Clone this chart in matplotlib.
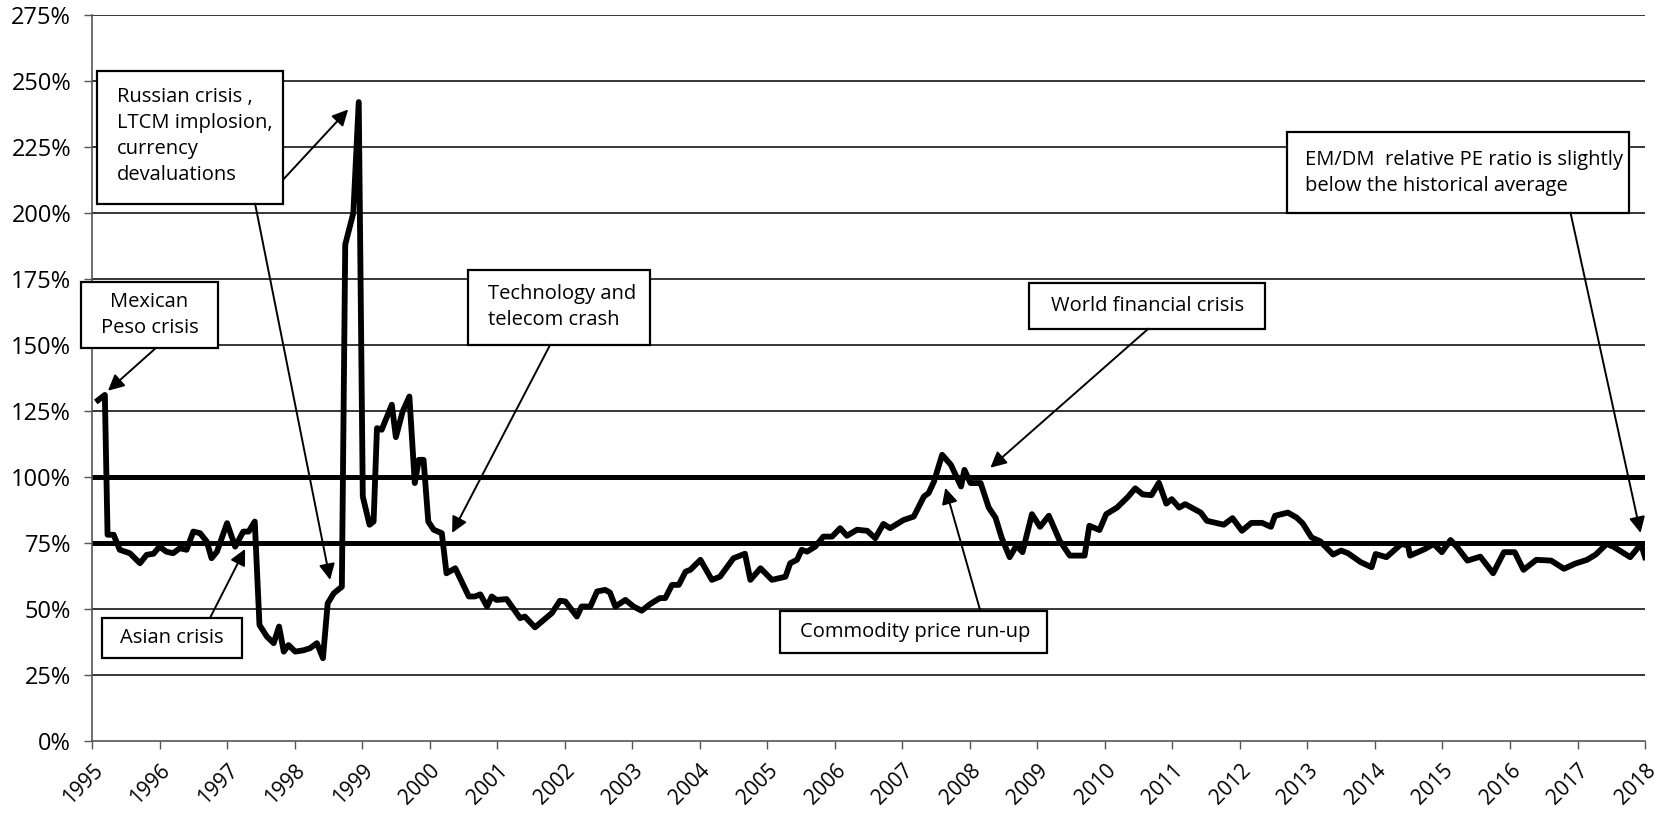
import matplotlib
matplotlib.use('Agg')
import matplotlib.pyplot as plt
from matplotlib.patches import Rectangle
from matplotlib.ticker import FuncFormatter

plt.rcParams['font.family'] = ['Open Sans', 'DejaVu Sans']

# EM/DM relative PE ratio (%), sampled at fractional years
years = [
    1995.09, 1995.19, 1995.23, 1995.32, 1995.41, 1995.56, 1995.71, 1995.81, 1995.91,
    1996.00, 1996.10, 1996.20, 1996.30, 1996.40, 1996.50, 1996.60, 1996.70, 1996.77, 1996.85,
    1997.00, 1997.12, 1997.24, 1997.32, 1997.41, 1997.48, 1997.59, 1997.69, 1997.77, 1997.84, 1997.91,
    1998.01, 1998.13, 1998.23, 1998.33, 1998.42, 1998.49, 1998.58, 1998.70, 1998.75, 1998.87, 1998.95,
    1999.01, 1999.11, 1999.17, 1999.22, 1999.29, 1999.44, 1999.50, 1999.60, 1999.70, 1999.78, 1999.84, 1999.91, 1999.98,
    2000.06, 2000.18, 2000.25, 2000.38, 2000.58, 2000.67, 2000.75, 2000.85, 2000.92, 2000.99,
    2001.14, 2001.34, 2001.41, 2001.56, 2001.69, 2001.81, 2001.93,
    2002.01, 2002.18, 2002.25, 2002.38, 2002.48, 2002.60, 2002.67, 2002.75, 2002.90,
    2003.02, 2003.14, 2003.27, 2003.41, 2003.49, 2003.59, 2003.69, 2003.79, 2003.86,
    2004.01, 2004.18, 2004.30, 2004.50, 2004.67, 2004.75, 2004.90,
    2005.07, 2005.27, 2005.34, 2005.44, 2005.51, 2005.59, 2005.71, 2005.83, 2005.96,
    2006.08, 2006.18, 2006.33, 2006.48, 2006.60, 2006.72, 2006.82,
    2007.02, 2007.17, 2007.32, 2007.39, 2007.47, 2007.59, 2007.72, 2007.87, 2007.92,
    2008.01, 2008.16, 2008.28, 2008.38, 2008.47, 2008.59, 2008.69, 2008.78, 2008.92,
    2009.04, 2009.17, 2009.33, 2009.48, 2009.70, 2009.77, 2009.92,
    2010.02, 2010.18, 2010.34, 2010.45, 2010.56, 2010.69, 2010.80, 2010.91, 2010.99,
    2011.10, 2011.19, 2011.42, 2011.51, 2011.76, 2011.89,
    2012.03, 2012.17, 2012.33, 2012.46, 2012.52, 2012.71, 2012.84, 2012.93,
    2013.06, 2013.19, 2013.38, 2013.50, 2013.60, 2013.79, 2013.95,
    2014.01, 2014.17, 2014.39, 2014.49, 2014.52, 2014.74, 2014.87, 2014.99,
    2015.12, 2015.22, 2015.37, 2015.56, 2015.75, 2015.91,
    2016.07, 2016.20, 2016.39, 2016.61, 2016.80, 2016.96,
    2017.14, 2017.27, 2017.43, 2017.53, 2017.78, 2017.94, 2018.00,
]
ratio = [
    129.0, 131.0, 78.0, 78.0, 72.3, 71.0, 67.2, 70.4, 70.8,
    73.5, 71.6, 71.0, 72.9, 72.3, 79.2, 78.6, 75.4, 69.1, 71.6,
    82.4, 73.5, 79.2, 79.2, 83.0, 43.8, 39.4, 36.9, 43.2, 33.7, 36.2,
    33.7, 34.2, 35.0, 36.9, 31.2, 52.0, 55.8, 58.3, 188.0, 200.0, 242.0,
    92.5, 81.8, 83.0, 118.4, 117.8, 127.3, 115.0, 124.7, 130.4, 97.6, 106.4, 106.4, 83.0,
    79.9, 78.6, 63.4, 65.3, 54.6, 54.6, 55.4, 50.8, 54.6, 53.3,
    53.6, 46.4, 47.0, 42.9, 45.7, 48.3, 53.0,
    52.7, 47.0, 50.8, 50.8, 56.5, 57.1, 56.1, 50.8, 53.3,
    50.8, 49.2, 51.8, 54.0, 54.0, 59.0, 59.0, 64.0, 64.7,
    68.5, 60.9, 62.1, 69.1, 70.8, 60.9, 65.3,
    60.9, 62.1, 67.2, 68.5, 72.3, 71.6, 73.5, 77.3, 77.3,
    80.5, 77.6, 79.9, 79.5, 76.7, 82.1, 80.5,
    83.6, 84.9, 92.5, 93.8, 98.2, 108.3, 104.5, 96.3, 102.6,
    97.6, 97.6, 88.3, 84.5, 77.0, 69.5, 73.9, 71.4, 85.8,
    81.0, 85.2, 75.8, 70.1, 70.1, 81.4, 79.8,
    85.8, 88.3, 92.3, 95.6, 93.3, 93.0, 97.7, 89.8, 91.5,
    88.3, 89.6, 86.4, 83.3, 81.8, 84.3,
    79.5, 82.5, 82.5, 81.0, 85.2, 86.4, 84.5, 82.3,
    77.0, 75.5, 70.5, 72.0, 71.0, 67.6, 65.7,
    70.7, 69.5, 74.5, 73.9, 70.1, 72.6, 74.5, 71.4,
    76.0, 73.2, 68.2, 69.7, 63.4, 71.4,
    71.4, 64.7, 68.5, 68.2, 65.1, 67.0,
    68.5, 70.5, 74.5, 73.5, 69.5, 74.5, 69.5,
]
reference_levels = [100, 75]
year_ticks = list(range(1995, 2019))
pct_ticks = list(range(0, 276, 25))

fig = plt.figure(figsize=(16.61, 8.17), dpi=100)
ax = fig.add_axes([0.0554, 0.0936, 0.935, 0.888])

ax.set_xlim(1995, 2018)
ax.set_ylim(0, 275)
ax.set_yticks(pct_ticks)
ax.yaxis.set_major_formatter(FuncFormatter(lambda v, _: f'{v:.0f}%'))
ax.set_xticks(year_ticks)
ax.set_xticklabels([str(y) for y in year_ticks], rotation=45, ha='right',
                   rotation_mode='anchor')
ax.tick_params(axis='y', length=6, width=1, pad=9, labelsize=17, color='#555555')
ax.tick_params(axis='x', length=6, width=1, pad=8, labelsize=15, color='#555555')

for s in ['top', 'right']:
    ax.spines[s].set_visible(False)
for s in ['left', 'bottom']:
    ax.spines[s].set_color('#555555')
    ax.spines[s].set_linewidth(1.2)

# horizontal grid
for v in pct_ticks[1:]:
    ax.axhline(v, color='black', lw=1.1, zorder=1)

# parity and historical average
for lvl in reference_levels:
    ax.axhline(lvl, color='black', lw=3.6, zorder=2)

ax.plot(years, ratio, color='black', lw=4.2, solid_joinstyle='round', zorder=3)


def note(x0, x1, y0, y1, text, tx, ty, ha='center'):
    ax.add_patch(Rectangle((x0, y0), x1 - x0, y1 - y0, facecolor='white',
                           edgecolor='black', lw=1.6, zorder=5, clip_on=False))
    ax.text(tx, ty, text, ha=ha, va='center', fontsize=14.5, linespacing=1.4,
            zorder=6, clip_on=False)


def arrow(start, tip):
    ax.annotate('', xy=tip, xytext=start,
                arrowprops=dict(arrowstyle='-|>', color='black', lw=1.4,
                                mutation_scale=24, shrinkA=0, shrinkB=0),
                zorder=7, annotation_clip=False)


note(1994.837, 1996.867, 148.9, 173.9, 'Mexican\nPeso crisis', 1995.85, 161.4)
arrow((1995.933, 148.5), (1995.237, 132.6))

note(1995.074, 1997.83, 203.5, 253.6,
     'Russian crisis ,\nLTCM implosion,\ncurrency\ndevaluations',
     1995.37, 229.0, ha='left')
arrow((1997.83, 212.6), (1998.793, 239.2))
arrow((1997.415, 203.5), (1998.526, 60.9))

note(2000.57, 2003.267, 150.0, 178.5, 'Technology and\ntelecom crash',
     2000.87, 164.2, ha='left')
arrow((2001.785, 150.0), (2000.333, 78.7))

note(2008.881, 2012.378, 156.1, 173.6, 'World financial crisis', 2010.63, 164.8)
arrow((2010.644, 156.1), (2008.304, 103.4))

note(2005.193, 2009.148, 33.2, 49.1, 'Commodity price run-up', 2005.48, 41.1,
     ha='left')
arrow((2008.156, 49.1), (2007.637, 95.8))

note(1995.148, 1997.222, 31.3, 46.5, 'Asian crisis', 1996.185, 38.9)
arrow((1996.748, 46.5), (1997.267, 72.6))

note(2012.704, 2017.756, 200.1, 230.5,
     'EM/DM  relative PE ratio is slightly\nbelow the historical average',
     2012.97, 215.3, ha='left')
arrow((2016.896, 200.1), (2017.933, 78.7))

fig.savefig('out.png', dpi=100)
